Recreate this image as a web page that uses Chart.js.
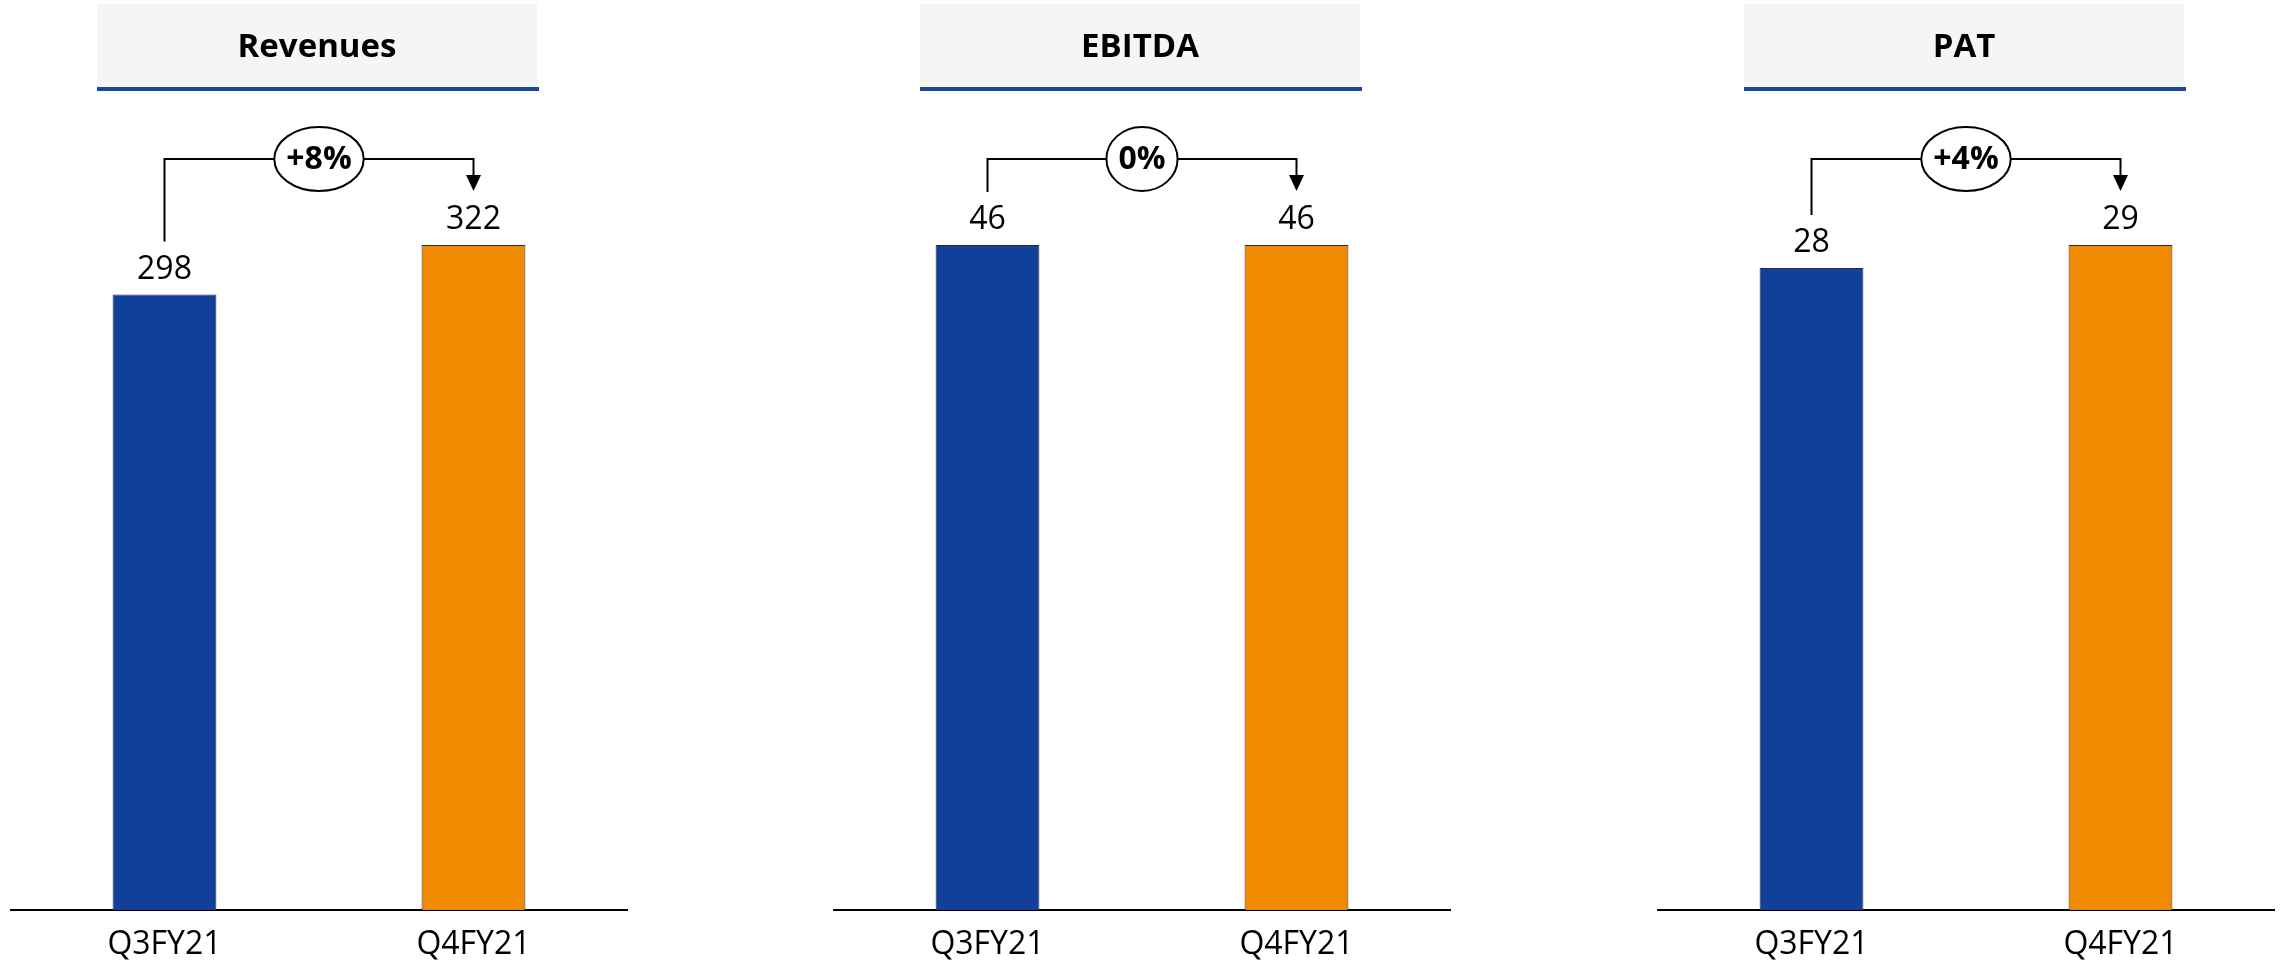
<!DOCTYPE html>
<html>
<head>
<meta charset="utf-8">
<title>Quarterly financial highlights</title>
<script src="https://cdn.jsdelivr.net/npm/chart.js@4/dist/chart.umd.min.js"></script>
<style>
  html, body { margin: 0; padding: 0; background: #ffffff; }
  #wrap { position: relative; width: 2280px; height: 966px; overflow: hidden; }
  canvas { position: absolute; top: 0; }
</style>
</head>
<body>
<div id="wrap">
  <canvas id="c0" width="618" height="966" style="left:10px"></canvas>
  <canvas id="c1" width="618" height="966" style="left:833px"></canvas>
  <canvas id="c2" width="618" height="966" style="left:1657px"></canvas>
</div>
<script>
// Periods compared in every panel
const quarters = ['Q3FY21', 'Q4FY21'];

// Panel headings
const panelTitles = ['Revenues', 'EBITDA', 'PAT'];

// Values per metric, one entry per quarter
const revenues = [298, 322];
const ebitda = [46, 46];
const pat = [28, 29];

// Quarter-on-quarter change shown in the bracket bubble
const growthLabels = ['+8%', '0%', '+4%'];

const panelSeries = [revenues, ebitda, pat];

const BLUE = '#11409A';
const ORANGE = '#F08A00';
const FONT = '"Open Sans", "Liberation Sans", sans-serif';

// Heading box, value labels and the growth bracket for one panel
const panelDecor = {
  id: 'panelDecor',
  afterDatasetsDraw(chart, args, opts) {
    const ctx = chart.ctx;
    const area = chart.chartArea;
    const meta = chart.getDatasetMeta(0);
    const bars = meta.data;
    const values = chart.data.datasets[0].data;

    ctx.save();

    // heading box with blue underline
    const cx = (area.left + area.right) / 2 - 2;
    const boxW = 440;
    ctx.fillStyle = '#F5F5F5';
    ctx.fillRect(cx - boxW / 2, 4, boxW, 83);
    ctx.fillStyle = '#1A46A0';
    ctx.fillRect(cx - boxW / 2, 87, boxW + 2, 4);
    ctx.fillStyle = '#000000';
    ctx.font = 'bold 33px ' + FONT;
    ctx.textAlign = 'center';
    ctx.textBaseline = 'middle';
    ctx.fillText(opts.title, cx, 48);

    // value labels above each bar
    ctx.font = '32px ' + FONT;
    bars.forEach((bar, i) => {
      ctx.fillText(String(values[i]), bar.x, bar.y - 25);
    });

    // growth bracket from first bar to second bar
    const xL = bars[0].x;
    const xR = bars[1].x;
    const yH = Math.min(bars[0].y, bars[1].y) - 86;
    const tip = bars[1].y - 54;
    ctx.strokeStyle = '#000000';
    ctx.lineWidth = 2;
    ctx.lineJoin = 'miter';
    ctx.beginPath();
    ctx.moveTo(xL, bars[0].y - 53);
    ctx.lineTo(xL, yH);
    ctx.lineTo(xR, yH);
    ctx.lineTo(xR, tip - 15);
    ctx.stroke();
    ctx.fillStyle = '#000000';
    ctx.beginPath();
    ctx.moveTo(xR - 7.5, tip - 16);
    ctx.lineTo(xR + 7.5, tip - 16);
    ctx.lineTo(xR, tip);
    ctx.closePath();
    ctx.fill();

    // bubble with the change
    ctx.font = 'bold 32px ' + FONT;
    const tw = ctx.measureText(opts.growth).width;
    const ry = 32;
    const rx = Math.max(33, tw / 2 + 12);
    const mx = (xL + xR) / 2;
    ctx.beginPath();
    ctx.ellipse(mx, yH, rx, ry, 0, 0, Math.PI * 2);
    ctx.fillStyle = '#FFFFFF';
    ctx.fill();
    ctx.stroke();
    ctx.fillStyle = '#000000';
    ctx.fillText(opts.growth, mx, yH + 1);

    ctx.restore();
  }
};

function buildPanel(canvasId, series, title, growth) {
  return new Chart(document.getElementById(canvasId), {
    type: 'bar',
    data: {
      labels: quarters,
      datasets: [{
        data: series,
        backgroundColor: [BLUE, ORANGE],
        borderColor: '#2B2B2B',
        borderWidth: 1,
        borderSkipped: 'bottom',
        categoryPercentage: 1,
        barPercentage: 0.336
      }]
    },
    options: {
      responsive: false,
      animation: false,
      devicePixelRatio: 1,
      layout: { padding: { top: 245, left: 0, right: 0, bottom: 0 } },
      plugins: {
        legend: { display: false },
        tooltip: { enabled: false },
        panelDecor: { title: title, growth: growth }
      },
      scales: {
        x: {
          offset: true,
          grid: { display: false, drawTicks: false },
          border: { display: true, color: '#000000', width: 2 },
          ticks: {
            color: '#000000',
            padding: 16,
            font: { family: FONT, size: 32 }
          },
          afterFit(scale) { scale.height = 56; }
        },
        y: {
          display: false,
          min: 0,
          max: Math.max(...series)
        }
      }
    },
    plugins: [panelDecor]
  });
}

function drawAll() {
  panelSeries.forEach((series, i) => {
    buildPanel('c' + i, series, panelTitles[i], growthLabels[i]);
  });
}

if (document.fonts && document.fonts.load) {
  Promise.all([
    document.fonts.load('32px "Open Sans"'),
    document.fonts.load('bold 32px "Open Sans"')
  ]).then(drawAll, drawAll);
} else {
  drawAll();
}
</script>
</body>
</html>
